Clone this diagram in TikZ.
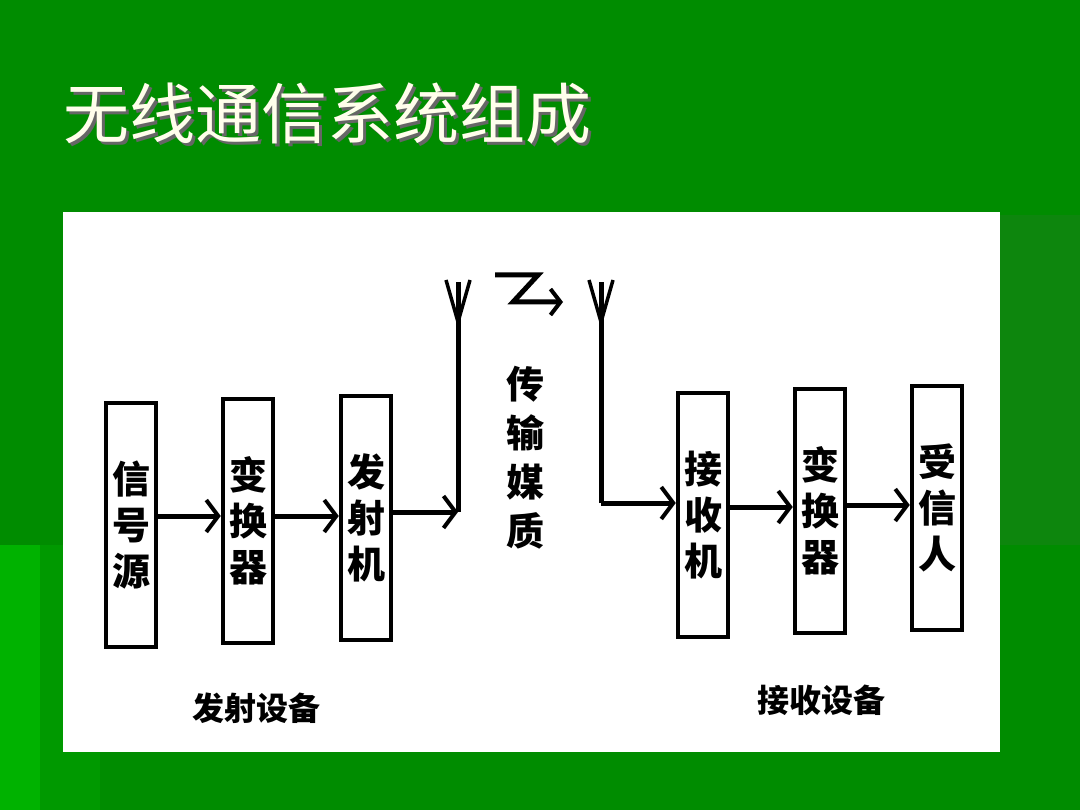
\documentclass[tikz,border=0pt]{standalone}
\usepackage{fontspec}
\newfontfamily\cjk{Noto Sans CJK SC}
\usetikzlibrary{arrows.meta}
\begin{document}
\begin{tikzpicture}[x=1pt,y=-1pt,
  box/.style={draw=black,line width=4.5pt,minimum width=50pt,minimum height=244pt,inner sep=0pt,font=\cjk\bfseries\fontsize{38}{46}\selectfont,align=center},
  ln/.style={line width=5pt},
  arr/.style={ln,-{Straight Barb[length=12pt,width=32pt,line width=4pt]}}]
\fill[green!55!black] (0,0) rectangle (1080,810);
\fill[green!70!black] (0,545) rectangle (40,810);
\fill[green!60!black] (40,545) rectangle (100,810);
\fill[green!50!black!95] (1000,215) rectangle (1080,545);
\node[anchor=west,text=black!60,font=\cjk\fontsize{66}{70}\selectfont] at (63,117) {无线通信系统组成};
\node[anchor=west,text=yellow!8,font=\cjk\fontsize{66}{70}\selectfont] (title) at (60,114) {无线通信系统组成};
\fill[white] (63,212) rectangle (1000,752);
\node[box] (a) at (131,525) {信\\号\\源};
\node[box] (b) at (248,521) {变\\换\\器};
\node[box] (c) at (366,518) {发\\射\\机};
\node[box] (d) at (703,515) {接\\收\\机};
\node[box] (e) at (820,511) {变\\换\\器};
\node[box] (f) at (937,508) {受\\信\\人};
\coordinate (t1) at (458,512);
\coordinate (t2) at (458,282);
\coordinate (r1) at (601,282);
\coordinate (r2) at (601,503);
\draw[arr] (a.east|-0,516) -- (b.west|-0,516);
\draw[arr] (b.east|-0,516) -- (c.west|-0,516);
\draw[arr] (c.east|-0,512) -- (t1);
\draw[ln] (t1) -- (t2);
\draw[line width=3.5pt] (446,280) -- (458,322) -- (470,280);
\draw[ln] (r2) -- (r1);
\draw[line width=3.5pt] (589,280) -- (601,322) -- (613,280);
\draw[arr] (r2) -- (d.west|-0,503);
\draw[arr] (d.east|-0,507) -- (e.west|-0,507);
\draw[arr] (e.east|-0,505) -- (f.west|-0,505);
\draw[line width=5pt,-{Straight Barb[length=10pt,width=26pt,line width=4pt]}] (495,275) -- (538,275) -- (513,302) -- (563,302);
\node[font=\cjk\bfseries\fontsize{38}{49}\selectfont,align=center] (m) at (525,458) {传\\输\\媒\\质};
\node[font=\cjk\bfseries\fontsize{32}{36}\selectfont] (l1) at (256,708) {发射设备};
\node[font=\cjk\bfseries\fontsize{32}{36}\selectfont] (l2) at (821,700) {接收设备};
\end{tikzpicture}
\end{document}
